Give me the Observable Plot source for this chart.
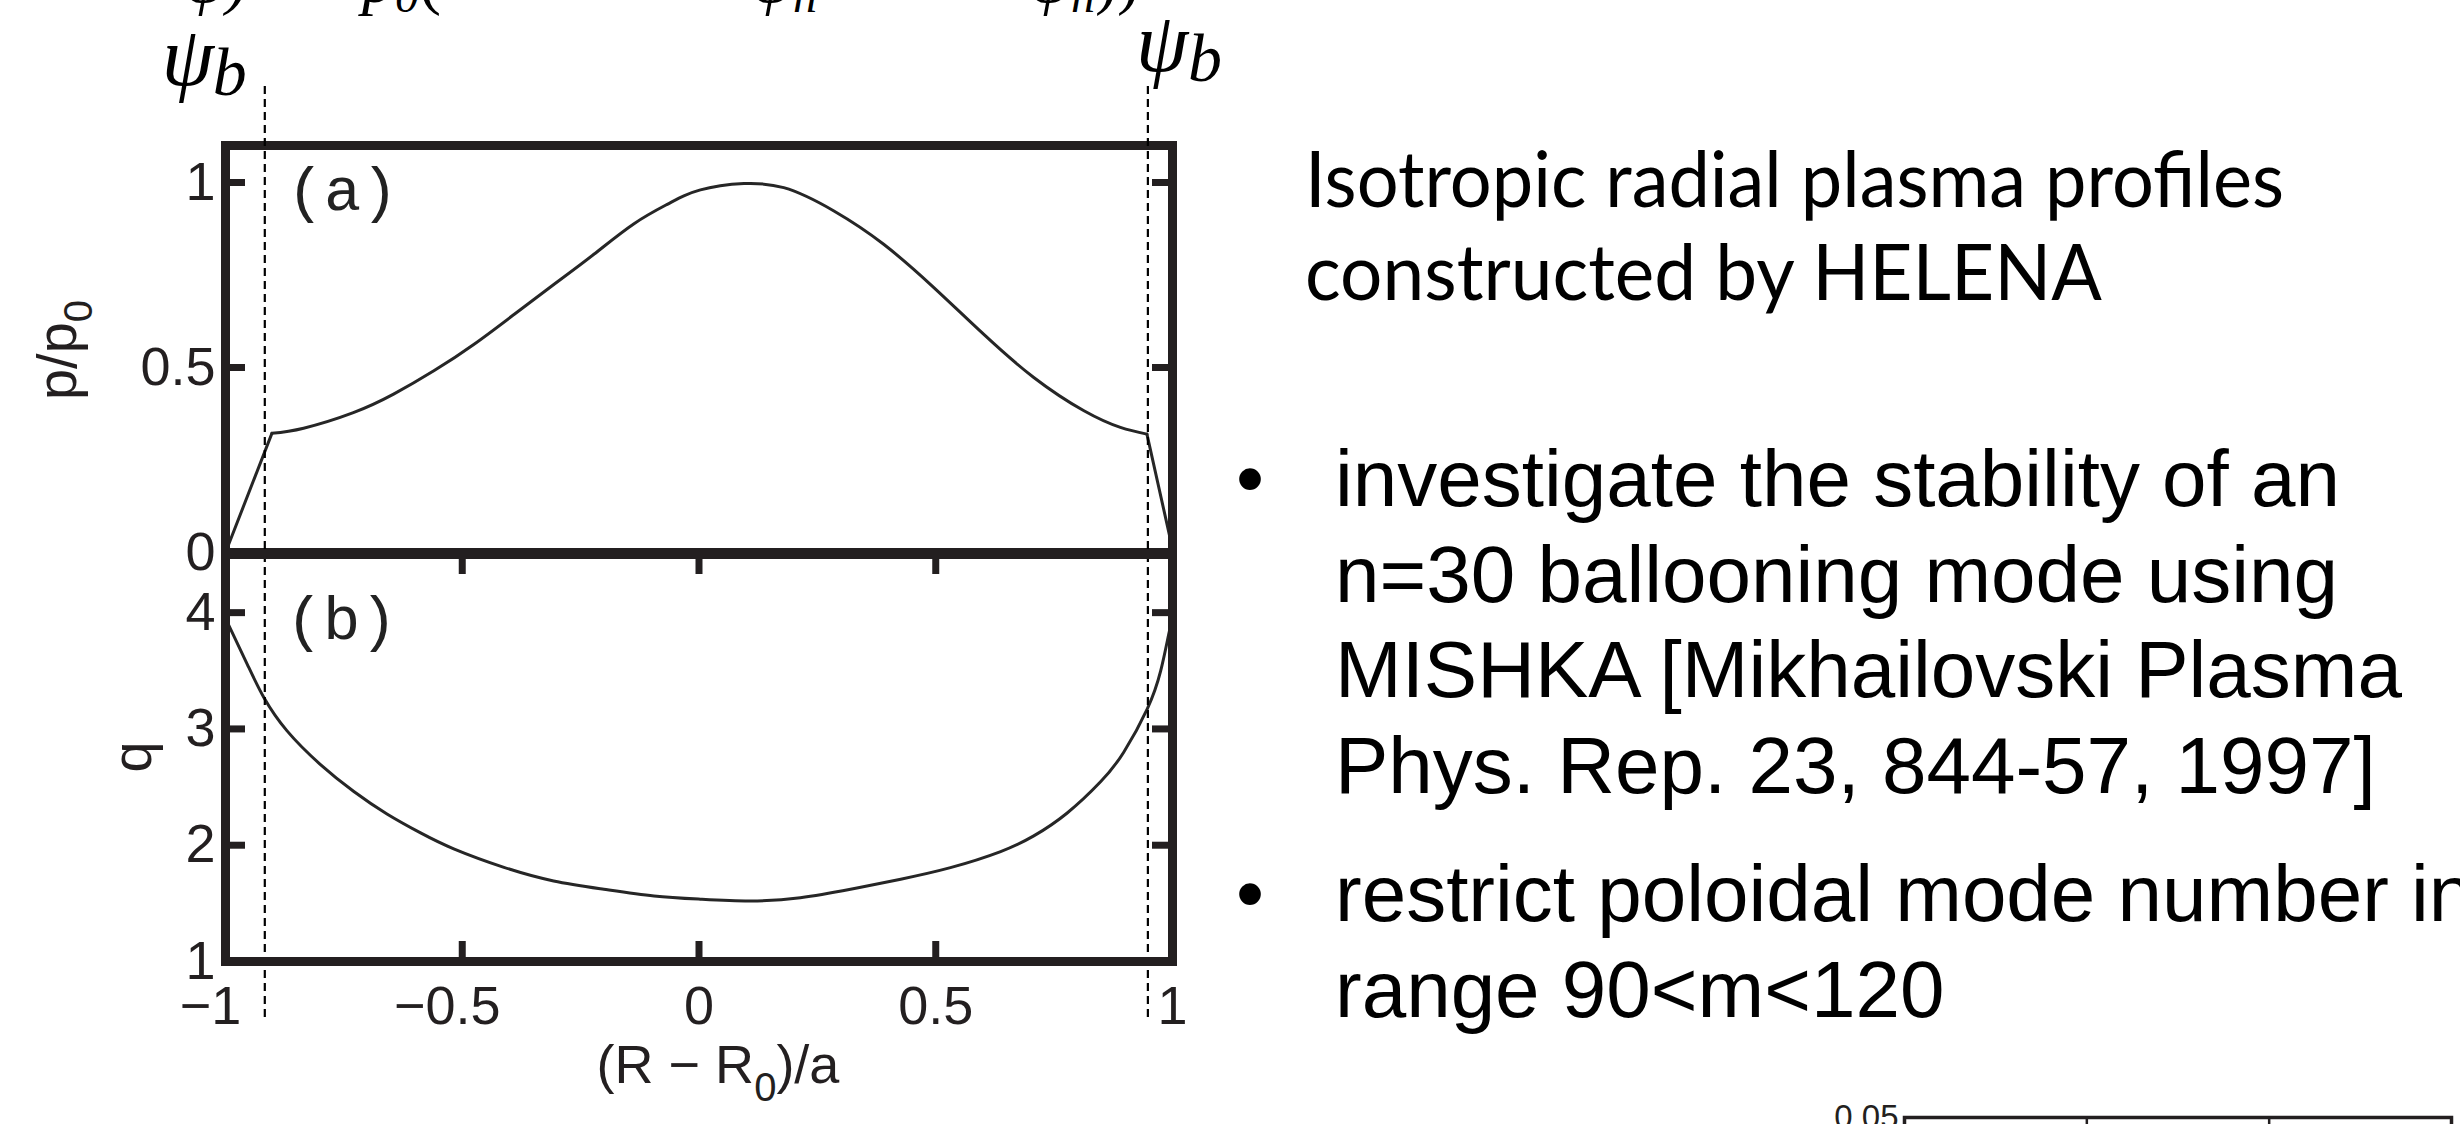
<!DOCTYPE html>
<html><head><meta charset="utf-8">
<script src="https://cdn.jsdelivr.net/npm/d3@7"></script>
<script src="https://cdn.jsdelivr.net/npm/@observablehq/plot@0.6"></script>
<style>
html,body{margin:0;padding:0;background:#fff;}
#page{position:relative;width:2460px;height:1124px;overflow:hidden;background:#fff;}
#page svg{position:absolute;left:0;top:0;}
</style></head><body><div id="page"></div>
<script>
// ---------------- data ----------------
const xTicks = [-1, -0.5, 0, 0.5, 1];
const xInnerTicks = [-0.5, 0, 0.5];
const pTicks = [0, 0.5, 1];
const qTicks = [1, 2, 3, 4];

// (a) normalised pressure p/p0 versus (R - R0)/a
const pressureX = [-1, -0.902, -0.835, -0.73, -0.645, -0.56, -0.475, -0.39, -0.306, -0.222, -0.138, -0.067, -0.032, 0.003, 0.045, 0.095, 0.179, 0.285, 0.39, 0.496, 0.601, 0.707, 0.813, 0.89, 0.946, 1];
const pressureY = [0, 0.322, 0.336, 0.378, 0.428, 0.491, 0.563, 0.644, 0.725, 0.806, 0.888, 0.941, 0.964, 0.98, 0.991, 0.997, 0.986, 0.923, 0.833, 0.716, 0.59, 0.473, 0.383, 0.338, 0.320, 0.01];

// (b) safety factor q versus (R - R0)/a
const qX = [-1, -0.954, -0.919, -0.87, -0.8, -0.729, -0.659, -0.588, -0.518, -0.412, -0.307, -0.201, -0.095, 0.003, 0.109, 0.214, 0.32, 0.426, 0.531, 0.637, 0.707, 0.777, 0.848, 0.897, 0.947, 0.975, 0.992, 1];
const qY = [3.95, 3.556, 3.27, 2.983, 2.696, 2.462, 2.269, 2.106, 1.969, 1.810, 1.693, 1.622, 1.564, 1.536, 1.521, 1.549, 1.622, 1.708, 1.807, 1.945, 2.08, 2.275, 2.545, 2.80, 3.175, 3.499, 3.814, 3.95];

// plasma boundary psi_b positions
const psiB = [-0.917, 0.948];

// partially visible chart at bottom right
const mDomain = [90, 120];
const mInnerTicks = [100, 110];
const gTicks = [0.05];

// ---------------- layout ----------------
const W = 2460, H = 1124;
const ink = "#231f20";
const curveInk = "#262626";
const X0 = 225, X1 = 1172;     // panel frame left / right
const AT = 145, AB = 552;      // panel (a) top / bottom
const BT = 554, BB = 961;      // panel (b) top / bottom
const PW = 1300;
const tickLen = 20;
const page = document.getElementById("page");

const fmt = d => d < 0 ? "\u2212" + String(Math.abs(d)) + "\u2007" : String(d);
const baseStyle = {background: "transparent", overflow: "visible", fontFamily: "Liberation Sans", fontSize: "54px", color: ink};

const pressure = pressureX.map((x, i) => ({x, y: pressureY[i]}));
const nP = pressure.length;
const pCore = pressure.slice(1, nP - 1);
const pEdges = [pressure[0], pressure[1], pressure[nP - 2], pressure[nP - 1]].map((d, i) => ({...d, side: i < 2 ? "L" : "R"}));
const safety = qX.map((x, i) => ({x, y: qY[i]}));

const psiText = (xv, t, size, dx, dy) => Plot.text([xv], {
  x: d => d, text: () => t, frameAnchor: "top", textAnchor: "start", lineAnchor: "bottom",
  dx, dy, fontFamily: "Liberation Serif", fontStyle: "italic", fontSize: size, fill: "#000"
});

// ---------------- panel (a) ----------------
const panelA = Plot.plot({
  width: PW, height: 620,
  marginLeft: X0, marginRight: PW - X1, marginTop: AT, marginBottom: 620 - AB,
  x: {domain: [-1, 1], axis: null},
  y: {domain: [0, 1.1]},
  style: baseStyle,
  marks: [
    Plot.axisY({ticks: pTicks, tickSize: 0, tickPadding: 10, label: null, tickFormat: fmt, fontSize: 54}),
    Plot.ruleY(pTicks, {stroke: ink, strokeWidth: 7, insetRight: (X1 - X0) - tickLen}),
    Plot.ruleY(pTicks, {stroke: ink, strokeWidth: 7, insetLeft: (X1 - X0) - tickLen}),
    Plot.line(pCore, {x: "x", y: "y", curve: "natural", stroke: curveInk, strokeWidth: 3}),
    Plot.line(pEdges, {x: "x", y: "y", z: "side", stroke: curveInk, strokeWidth: 3}),
    Plot.text(["(a)"], {text: d => d, frameAnchor: "top-left", dx: 117, dy: 64, textAnchor: "middle", lineAnchor: "bottom",
      fontFamily: "Liberation Mono", fontSize: 62, fill: "#222"}),
    Plot.frame({stroke: ink, strokeWidth: 9}),
    psiText(psiB[0], "\u03c8", 84, -103, 84 - AT),
    psiText(psiB[0], "b", 68, -52, 94 - AT),
    psiText(psiB[1], "\u03c8", 84, -12, 70 - AT),
    psiText(psiB[1], "b", 68, 40, 80 - AT)
  ]
});

// ---------------- panel (b) ----------------
const panelB = Plot.plot({
  width: PW, height: H,
  marginLeft: X0, marginRight: PW - X1, marginTop: BT, marginBottom: H - BB,
  x: {domain: [-1, 1]},
  y: {domain: [1, 4.5]},
  style: baseStyle,
  marks: [
    Plot.axisX({ticks: xTicks, tickSize: 0, tickPadding: 24, label: null, tickFormat: fmt, fontSize: 54}),
    Plot.axisY({ticks: qTicks, tickSize: 0, tickPadding: 10, label: null, tickFormat: fmt, fontSize: 54}),
    Plot.ruleX(xInnerTicks, {stroke: ink, strokeWidth: 7, insetBottom: (BB - BT) - tickLen}),
    Plot.ruleX(xInnerTicks, {stroke: ink, strokeWidth: 7, insetTop: (BB - BT) - tickLen}),
    Plot.ruleY(qTicks, {stroke: ink, strokeWidth: 7, insetRight: (X1 - X0) - tickLen}),
    Plot.ruleY(qTicks, {stroke: ink, strokeWidth: 7, insetLeft: (X1 - X0) - tickLen}),
    Plot.line(safety, {x: "x", y: "y", curve: "natural", stroke: curveInk, strokeWidth: 3}),
    Plot.ruleX(psiB, {stroke: "#000", strokeWidth: 2.2, strokeDasharray: "8,5", insetTop: -(BT - 86), insetBottom: -(1020 - BB)}),
    Plot.text(["(b)"], {text: d => d, frameAnchor: "top-left", dx: 116, dy: 84, textAnchor: "middle", lineAnchor: "bottom",
      fontFamily: "Liberation Mono", fontSize: 62, fill: "#222"}),
    Plot.frame({stroke: ink, strokeWidth: 9})
  ]
});

// ---------------- partially visible chart, bottom right ----------------
const IT = 1117, IL = 1904, IR = 2451;
const insetChart = Plot.plot({
  width: W, height: 1400,
  marginLeft: IL, marginRight: W - IR, marginTop: IT, marginBottom: 100,
  x: {domain: mDomain, axis: null},
  y: {domain: [0, 0.05]},
  style: {...baseStyle, fontSize: "33px"},
  marks: [
    Plot.axisY({ticks: gTicks, tickSize: 0, tickPadding: 6, label: null, tickFormat: d => d.toFixed(2), fontSize: 33}),
    Plot.ruleX(mInnerTicks, {stroke: ink, strokeWidth: 2.5, insetBottom: 1300 - IT - 12}),
    Plot.frame({stroke: ink, strokeWidth: 3.5})
  ]
});

page.append(panelA, panelB, insetChart);

// ---------------- overlay text ----------------
const svg = d3.select(page).append("svg")
  .attr("width", W).attr("height", H).attr("viewBox", `0 0 ${W} ${H}`)
  .style("white-space", "pre").style("overflow", "visible");

// axis titles
const yl1 = svg.append("text").attr("transform", "translate(76,350) rotate(-90)")
  .attr("text-anchor", "middle").attr("font-family", "Liberation Sans").attr("font-size", 56).attr("fill", ink);
yl1.append("tspan").text("p/p");
yl1.append("tspan").attr("font-size", 40).attr("dy", 16).text("0");

svg.append("text").attr("transform", "translate(151,757) rotate(-90)")
  .attr("text-anchor", "middle").attr("font-family", "Liberation Sans").attr("font-size", 56).attr("fill", ink).text("q");

const xl = svg.append("text").attr("x", 718).attr("y", 1083).attr("text-anchor", "middle")
  .attr("font-family", "Liberation Sans").attr("font-size", 54).attr("fill", ink);
xl.append("tspan").text("(R \u2212 R");
xl.append("tspan").attr("font-size", 40).attr("dy", 18).text("0");
xl.append("tspan").attr("dy", -18).text(")/a");

// formula fragments cut at the top edge
const frag = (x, parts) => {
  const t = svg.append("text").attr("x", x).attr("y", 2).attr("font-family", "Liberation Serif")
    .attr("font-style", "italic").attr("font-size", 66).attr("fill", "#000");
  let down = 0;
  for (const [s, kind] of parts) {
    const sp = t.append("tspan").text(s);
    if (kind === "sub") { sp.attr("font-size", 48).attr("dy", 10 - down); down = 10; }
    else { sp.attr("dy", -down); down = 0; if (kind === "up") sp.attr("font-style", "normal"); }
  }
};
frag(185, [["\u03c8)", ""]]);
frag(362, [["p", ""], ["0", "sub"], ["(", "up"]]);
frag(752, [["\u03c8", ""], ["n", "sub"]]);
frag(1030, [["\u03c8", ""], ["n", "sub"], ["))", "up"]]);

// slide heading
const heading = ["Isotropic radial plasma profiles", "constructed by HELENA"];
const headingLen = [979, 797];
heading.forEach((s, i) => {
  svg.append("text").attr("x", 1305).attr("y", 207 + i * 93)
    .attr("font-family", "Lato").attr("font-size", 78).attr("fill", "#000")
    .attr("textLength", headingLen[i]).attr("lengthAdjust", "spacingAndGlyphs").text(s);
});

// bullets
const bullets = [
  ["investigate the stability of an", "n=30 ballooning mode using", "MISHKA [Mikhailovski Plasma", "Phys. Rep. 23, 844-57, 1997]"],
  ["restrict poloidal mode number in", "range  90<m<120"]
];
const bulletStart = [506, 921];
bullets.forEach((lines, b) => {
  svg.append("text").attr("x", 1250).attr("y", bulletStart[b]).attr("text-anchor", "middle")
    .attr("font-family", "Liberation Sans").attr("font-size", 80).attr("fill", "#000").text("\u2022");
  lines.forEach((s, i) => {
    svg.append("text").attr("x", 1335).attr("y", bulletStart[b] + i * 95.5)
      .attr("font-family", "Liberation Sans").attr("font-size", 80).attr("fill", "#000").text(s);
  });
});
</script></body></html>
